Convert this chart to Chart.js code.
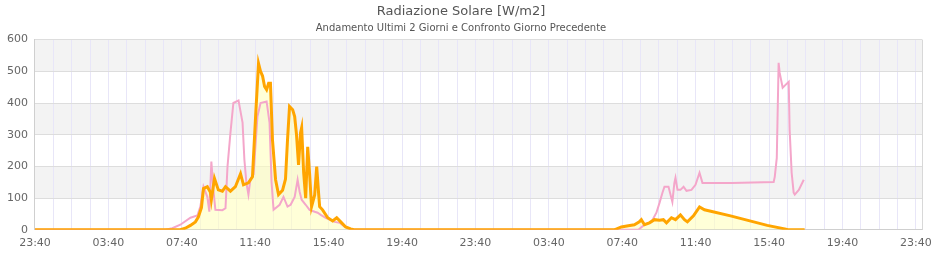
<!DOCTYPE html>
<html>
<head>
<meta charset="utf-8">
<script src="https://cdn.jsdelivr.net/npm/chart.js@4"></script>
<style>
  html, body { margin: 0; padding: 0; background: #fff; }
  #box { width: 940px; height: 260px; }
</style>
</head>
<body>
<div id="box"><canvas id="radChart"></canvas></div>
<script>
// hours since 23:40 of the first day
var curHours = [0, 7.92, 8.19, 8.47, 8.74, 8.90, 9.07, 9.18, 9.39, 9.56, 9.61, 9.78, 9.99, 10.21, 10.38, 10.65, 10.92,
  11.20, 11.36, 11.63, 11.85, 12.02, 12.18, 12.29, 12.40, 12.51, 12.62, 12.73, 12.83, 12.94, 13.11, 13.27, 13.49,
  13.65, 13.76, 13.87, 14.04, 14.15, 14.25, 14.36, 14.47, 14.53, 14.64, 14.75, 14.86, 14.96, 15.07, 15.24, 15.35,
  15.46, 15.51, 15.67, 15.95, 16.22, 16.44, 16.66, 16.93, 17.20, 17.37,
  31.57, 31.95, 32.33, 32.66, 32.93, 33.04, 33.21, 33.48, 33.75, 34.03, 34.24, 34.41, 34.68, 34.90, 35.17, 35.39,
  35.55, 35.88, 36.21, 36.48, 37.90, 39.90, 40.85, 41.02, 41.94];
var curValues = [0, 0, 5, 14, 25, 40, 70, 130, 136, 118, 95, 162, 126, 122, 136, 122, 136,
  177, 142, 148, 167, 357, 525, 500, 485, 452, 442, 462, 462, 284, 158, 111, 125,
  160, 284, 389, 379, 357, 300, 205, 306, 322, 180, 100, 262, 180, 73, 110, 199,
  110, 73, 63, 38, 28, 38, 25, 9, 3, 0,
  0, 9, 13, 16, 25, 32, 16, 22, 32, 30, 32, 22, 38, 32, 47, 32,
  25, 44, 72, 63, 44, 14, 3, 0, 0];

var prevHours = [0, 7.10, 7.48, 7.92, 8.47, 8.85, 9.01, 9.18, 9.39, 9.50, 9.61, 9.72, 9.83, 10.21, 10.38, 10.49,
  10.65, 10.81, 11.09, 11.31, 11.41, 11.52, 11.63, 11.74, 11.91, 12.12, 12.29, 12.62, 12.78, 12.89, 13.00, 13.33,
  13.54, 13.76, 13.93, 14.15, 14.31, 14.42, 14.53, 14.75, 14.96, 15.24, 15.40, 15.57, 15.84, 16.33, 16.60, 16.88,
  17.15, 17.31,
  32.88, 33.21, 33.59, 33.86, 34.03, 34.19, 34.30, 34.52, 34.73, 34.84, 34.90, 35.01, 35.17, 35.34, 35.50, 35.77,
  35.99, 36.21, 36.37, 37.96, 40.25, 40.31, 40.42, 40.52, 40.58, 40.74, 40.91, 41.07, 41.12, 41.23, 41.34, 41.40,
  41.62, 41.89];
var prevValues = [0, 0, 5, 16, 38, 45, 73, 136, 104, 57, 215, 126, 63, 62, 68, 200,
  306, 400, 408, 338, 221, 148, 111, 160, 175, 357, 400, 405, 338, 150, 63, 79,
  104, 73, 79, 104, 158, 120, 95, 79, 63, 57, 54, 47, 38, 25, 22, 9,
  3, 0,
  0, 16, 25, 54, 85, 117, 136, 136, 88, 148, 164, 126, 126, 136, 123, 126,
  142, 180, 148, 148, 151, 167, 227, 527, 495, 448, 458, 467, 316, 180, 117, 111,
  126, 158];

var tickLabels = ['23:40', '03:40', '07:40', '11:40', '15:40', '19:40', '23:40',
  '03:40', '07:40', '11:40', '15:40', '19:40', '23:40'];

function toPoints(hours, values) {
  return hours.map(function (h, i) { return { x: h, y: values[i] }; });
}

var bandPlugin = {
  id: 'bands',
  beforeDraw: function (chart) {
    var ctx = chart.ctx, a = chart.chartArea, y = chart.scales.y;
    ctx.save();
    ctx.fillStyle = '#f3f3f3';
    [[500, 600], [300, 400], [100, 200]].forEach(function (b) {
      var top = y.getPixelForValue(b[1]), bot = y.getPixelForValue(b[0]);
      ctx.fillRect(a.left, top, a.right - a.left, bot - top);
    });
    ctx.restore();
  },
  afterDraw: function (chart) {
    var ctx = chart.ctx, a = chart.chartArea;
    ctx.save();
    ctx.strokeStyle = '#d8d8d8';
    ctx.lineWidth = 1;
    ctx.beginPath();
    ctx.moveTo(Math.round(a.right) + 0.5, a.top);
    ctx.lineTo(Math.round(a.right) + 0.5, a.bottom);
    ctx.stroke();
    ctx.restore();
  }
};

Chart.defaults.font.family = '"DejaVu Sans", Verdana, sans-serif';
Chart.defaults.color = '#666';

new Chart(document.getElementById('radChart').getContext('2d'), {
  type: 'line',
  data: {
    datasets: [{
      label: 'Ultimi 2 giorni',
      data: toPoints(curHours, curValues),
      borderColor: '#ffa500',
      backgroundColor: 'rgba(255, 255, 190, 0.6)',
      borderWidth: 3,
      pointRadius: 0,
      tension: 0,
      fill: 'origin'
    }, {
      label: 'Giorno precedente',
      data: toPoints(prevHours, prevValues),
      borderColor: '#f4a6ca',
      borderWidth: 2,
      pointRadius: 0,
      tension: 0,
      fill: false
    }]
  },
  options: {
    responsive: true,
    maintainAspectRatio: false,
    animation: false,
    layout: { padding: { left: 0, right: 18, bottom: 3 } },
    plugins: {
      legend: { display: false },
      tooltip: { enabled: false },
      filler: { drawTime: 'beforeDatasetsDraw' },
      title: {
        display: true,
        text: 'Radiazione Solare [W/m2]',
        color: '#555',
        font: { size: 13, weight: 'normal' },
        padding: { top: 4, bottom: 3 }
      },
      subtitle: {
        display: true,
        text: 'Andamento Ultimi 2 Giorni e Confronto Giorno Precedente',
        color: '#555',
        font: { size: 10 },
        padding: { bottom: 5 }
      }
    },
    scales: {
      x: {
        type: 'linear',
        min: 0,
        max: 48.333,
        grid: { color: '#e8e6f8', drawTicks: false },
        border: { color: '#cfcfcf' },
        ticks: {
          stepSize: 1,
          includeBounds: false,
          autoSkip: false,
          maxRotation: 0,
          padding: 7,
          font: { size: 11 },
          callback: function (v) {
            return v % 4 === 0 ? tickLabels[v / 4] : '';
          }
        }
      },
      y: {
        min: 0,
        max: 600,
        grid: { color: '#dddddd', drawTicks: false },
        border: { color: '#cfcfcf' },
        ticks: { stepSize: 100, padding: 7, font: { size: 11 } }
      }
    }
  },
  plugins: [bandPlugin]
});
</script>
</body>
</html>
